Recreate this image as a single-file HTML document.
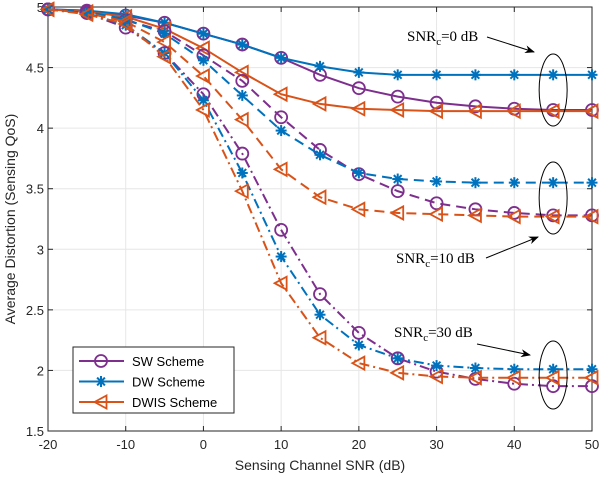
<!DOCTYPE html>
<html><head><meta charset="utf-8"><style>
body{margin:0;background:#fff;}
svg{display:block;font-family:"Liberation Sans",sans-serif;}
.ser{font-family:"Liberation Serif",serif;font-size:15px;}
</style></head><body>
<svg id="chart" width="600" height="484" viewBox="0 0 600 484">
<g id="grid"></g>
<g id="axes"></g>
<g id="series"></g>
<g id="annot">
<ellipse cx="0" cy="90" rx="14" ry="36" fill="none" stroke="#000" stroke-width="1" id="e0"/>
<ellipse cx="0" cy="198" rx="14" ry="36" fill="none" stroke="#000" stroke-width="1" id="e1"/>
<ellipse cx="0" cy="375" rx="14" ry="34" fill="none" stroke="#000" stroke-width="1" id="e2"/>
<text class="ser" x="407" y="41">SNR<tspan font-size="11" dy="4">c</tspan><tspan dy="-4">=0 dB</tspan></text>
<text class="ser" x="396" y="263">SNR<tspan font-size="11" dy="4">c</tspan><tspan dy="-4">=10 dB</tspan></text>
<text class="ser" x="394" y="337">SNR<tspan font-size="11" dy="4">c</tspan><tspan dy="-4">=30 dB</tspan></text>
<defs><marker id="ah" markerWidth="10" markerHeight="8" refX="9" refY="4" orient="auto" markerUnits="userSpaceOnUse"><path d="M0,0 L10,4 L0,8 L3,4 Z" fill="#000"/></marker></defs>
<line x1="487" y1="37" x2="534" y2="52" stroke="#000" marker-end="url(#ah)"/>
<line x1="486" y1="258" x2="538" y2="237" stroke="#000" marker-end="url(#ah)"/>
<line x1="477" y1="344" x2="530" y2="355" stroke="#000" marker-end="url(#ah)"/>
</g>
<g id="legend"></g>
</svg>
<script>
const xValues=[-20,-15,-10,-5,0,5,10,15,20,25,30,35,40,45,50];
const xTicks=[-20,-10,0,10,20,30,40,50];
const yTicks=[1.5,2,2.5,3,3.5,4,4.5,5];
const sw0=[4.98,4.97,4.93,4.87,4.78,4.69,4.58,4.44,4.33,4.26,4.21,4.18,4.16,4.15,4.15];
const dw0=[4.98,4.97,4.94,4.87,4.78,4.69,4.58,4.51,4.46,4.44,4.44,4.44,4.44,4.44,4.44];
const dwis0=[4.98,4.96,4.92,4.82,4.66,4.46,4.28,4.20,4.16,4.15,4.14,4.14,4.14,4.14,4.14];
const sw10=[4.98,4.96,4.89,4.80,4.60,4.39,4.09,3.82,3.62,3.48,3.38,3.33,3.30,3.28,3.28];
const dw10=[4.98,4.96,4.90,4.78,4.56,4.27,3.98,3.78,3.63,3.58,3.56,3.55,3.55,3.55,3.55];
const dwis10=[4.98,4.95,4.88,4.71,4.43,4.07,3.66,3.43,3.33,3.30,3.29,3.28,3.27,3.27,3.27];
const sw30=[4.98,4.95,4.83,4.62,4.28,3.79,3.16,2.63,2.31,2.10,1.99,1.93,1.89,1.87,1.87];
const dw30=[4.98,4.95,4.85,4.62,4.23,3.63,2.94,2.46,2.21,2.10,2.04,2.02,2.01,2.01,2.01];
const dwis30=[4.98,4.94,4.86,4.59,4.15,3.48,2.72,2.27,2.06,1.98,1.95,1.94,1.94,1.94,1.94];
const ellipseX=45;

const L=48,R=592,T=7,B=431;
const sx=v=>L+(v+20)/70*(R-L);
const sy=v=>B-(v-1.5)/3.5*(B-T);
const NS='http://www.w3.org/2000/svg';
function mk(tag,parent,attrs){const e=document.createElementNS(NS,tag);for(const k in attrs)e.setAttribute(k,attrs[k]);parent.appendChild(e);return e;}
const grid=document.getElementById('grid'),axes=document.getElementById('axes'),ser=document.getElementById('series'),leg=document.getElementById('legend');
mk('rect',grid,{x:L,y:T,width:R-L,height:B-T,fill:'#fff'});
xTicks.forEach(t=>{const x=sx(t);
 let g=mk('line',grid,{x1:x,x2:x,y1:T,y2:B,stroke:'#e6e6e6'});
 mk('line',axes,{x1:x,x2:x,y1:B,y2:B-5,stroke:'#262626'});mk('line',axes,{x1:x,x2:x,y1:T,y2:T+5,stroke:'#262626'});
 const tx=mk('text',axes,{x:x,y:B+18,'text-anchor':'middle','font-size':13,fill:'#262626'});tx.textContent=t;
 });
yTicks.forEach(t=>{const y=sy(t);
 let g=mk('line',grid,{x1:L,x2:R,y1:y,y2:y,stroke:'#e6e6e6'});
 mk('line',axes,{x1:L,x2:L+5,y1:y,y2:y,stroke:'#262626'});mk('line',axes,{x1:R,x2:R-5,y1:y,y2:y,stroke:'#262626'});
 const tx=mk('text',axes,{x:L-4,y:y+5,'text-anchor':'end','font-size':13,fill:'#262626'});tx.textContent=t;
 });
mk('rect',axes,{x:L,y:T,width:R-L,height:B-T,fill:'none',stroke:'#262626'});
let xt=mk('text',axes,{x:(L+R)/2,y:B+39,'text-anchor':'middle','font-size':14,fill:'#262626'});xt.textContent='Sensing Channel SNR (dB)';

let yt=mk('text',axes,{x:0,y:0,'text-anchor':'middle','font-size':14,fill:'#262626',transform:`translate(15,${(T+B)/2}) rotate(-90)`});yt.textContent='Average Distortion (Sensing QoS)';


const P='#7E2F8E',Bl='#0072BD',O='#D95319';
const dashes={solid:'',dash:'10,6',dashdot:'10,4,2,4'};
function marker(g,type,x,y,c){
 if(type==='o')mk('circle',g,{cx:x,cy:y,r:6,fill:'none',stroke:c,'stroke-width':1.8});
 else if(type==='*'){for(let a=0;a<4;a++){const an=a*Math.PI/4;mk('line',g,{x1:x-5.5*Math.cos(an),y1:y-5.5*Math.sin(an),x2:x+5.5*Math.cos(an),y2:y+5.5*Math.sin(an),stroke:c,'stroke-width':2});}}
 else mk('path',g,{d:`M${x-6.5},${y} L${x+5.5},${y-6.5} L${x+5.5},${y+6.5} Z`,fill:'none',stroke:c,'stroke-width':1.8});
}
const list=[[sw0,P,'o','solid','sw-0db'],[dw0,Bl,'*','solid','dw-0db'],[dwis0,O,'<','solid','dwis-0db'],
[sw10,P,'o','dash','sw-10db'],[dw10,Bl,'*','dash','dw-10db'],[dwis10,O,'<','dash','dwis-10db'],
[sw30,P,'o','dashdot','sw-30db'],[dw30,Bl,'*','dashdot','dw-30db'],[dwis30,O,'<','dashdot','dwis-30db']];
list.forEach(([d,c,m,ds,name])=>{
 const g=mk('g',ser,{});
 const pts=d.map((v,i)=>sx(xValues[i])+','+sy(v)).join(' ');
 mk('polyline',g,{points:pts,fill:'none',stroke:c,'stroke-width':2,'stroke-dasharray':dashes[ds]});
 d.forEach((v,i)=>marker(g,m,sx(xValues[i]),sy(v),c));
});
['e0','e1','e2'].forEach(id=>document.getElementById(id).setAttribute('cx',sx(ellipseX)));
mk('rect',leg,{x:73,y:347,width:161,height:66,fill:'#fff',stroke:'#262626'});
[['SW Scheme',P,'o'],['DW Scheme',Bl,'*'],['DWIS Scheme',O,'<']].forEach(([t,c,m],i)=>{
 const y=361+i*20.5;const g=mk('g',leg,{});
 mk('line',g,{x1:79,x2:124,y1:y,y2:y,stroke:c,'stroke-width':2});marker(g,m,101,y,c);
 const tx=mk('text',g,{x:132,y:y+5,'font-size':13,fill:'#000'});tx.textContent=t;});
</script>
</body></html>
